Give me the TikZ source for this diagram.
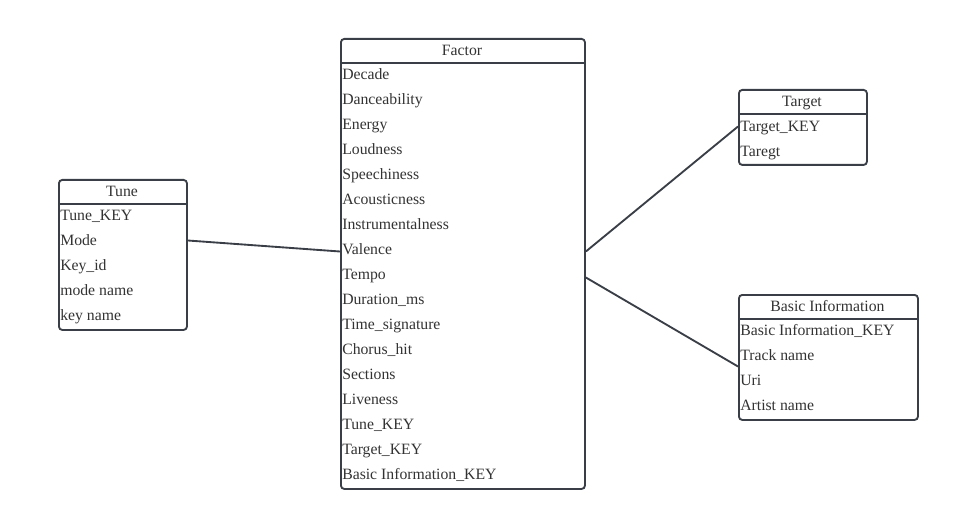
\documentclass[tikz,border=0pt]{standalone}
\usepackage{fontspec}
\setmainfont{Liberation Serif}
\usetikzlibrary{calc}
\begin{document}
\begin{tikzpicture}[x=0.75pt,y=-0.75pt,
  tbl/.style={draw=linec, line width=1.4pt, rounded corners=2.5pt, inner sep=0pt, anchor=north west, fill=white},
  hdr/.style={font=\fontsize{11.8}{13}\selectfont, text=textc, anchor=center, inner sep=0pt},
  fld/.style={font=\fontsize{11.8}{13}\selectfont, text=textc, anchor=west, inner sep=0pt},
  sep/.style={draw=linec, line width=1.4pt},
  conn/.style={draw=linec, line width=1.4pt}]
\definecolor{linec}{HTML}{3A3F47}
\definecolor{textc}{HTML}{333333}
\useasboundingbox (0,0) rectangle (977,527);
% Factor
\node[tbl, minimum width=183pt, minimum height=337.5pt] (factor) at (340,38) {};
\draw[sep] (340,63) -- (584,63);
\node[hdr] (factorh) at (462,52.5) {\strut Factor};
\foreach \t [count=\i from 0] in {Decade,Danceability,Energy,Loudness,Speechiness,Acousticness,Instrumentalness,Valence,Tempo,Duration\_ms,Time\_signature,Chorus\_hit,Sections,Liveness,Tune\_KEY,Target\_KEY,Basic Information\_KEY}
  \node[fld] (f\i) at (342,{76.5+25*\i}) {\strut\t};
% Tune
\node[tbl, minimum width=96pt, minimum height=112.5pt] (tune) at (58,179) {};
\draw[sep] (58,204) -- (186,204);
\node[hdr] (tuneh) at (122,193.5) {\strut Tune};
\foreach \t [count=\i from 0] in {Tune\_KEY,Mode,Key\_id,mode name,key name}
  \node[fld] (t\i) at (60,{217.5+25*\i}) {\strut\t};
% Target
\node[tbl, minimum width=96pt, minimum height=56.25pt] (target) at (738,89) {};
\draw[sep] (738,114) -- (866,114);
\node[hdr] (targeth) at (802,103.5) {\strut Target};
\foreach \t [count=\i from 0] in {Target\_KEY,Taregt}
  \node[fld] (g\i) at (740,{128.5+25*\i}) {\strut\t};
% Basic Information
\node[tbl, minimum width=134.25pt, minimum height=93.75pt] (basic) at (738,294) {};
\draw[sep] (738,319) -- (917,319);
\node[hdr] (basich) at (827.5,308.5) {\strut Basic Information};
\foreach \t [count=\i from 0] in {Basic Information\_KEY,Track name,Uri,Artist name}
  \node[fld] (b\i) at (740,{332.5+25*\i}) {\strut\t};
% connectors
\coordinate (bmid) at ($(b1)!0.4!(b2)$);
\draw[conn] ([yshift=1.5pt]tune.east |- t1) -- ([yshift=0pt]factor.west |- f7);
\draw[conn] ([yshift=0pt]factor.east |- f7) -- ([yshift=1.5pt]target.west |- g0);
\draw[conn] ([yshift=-0.75pt]factor.east |- f8) -- ([yshift=0.75pt]basic.west |- bmid);
\end{tikzpicture}
\end{document}
